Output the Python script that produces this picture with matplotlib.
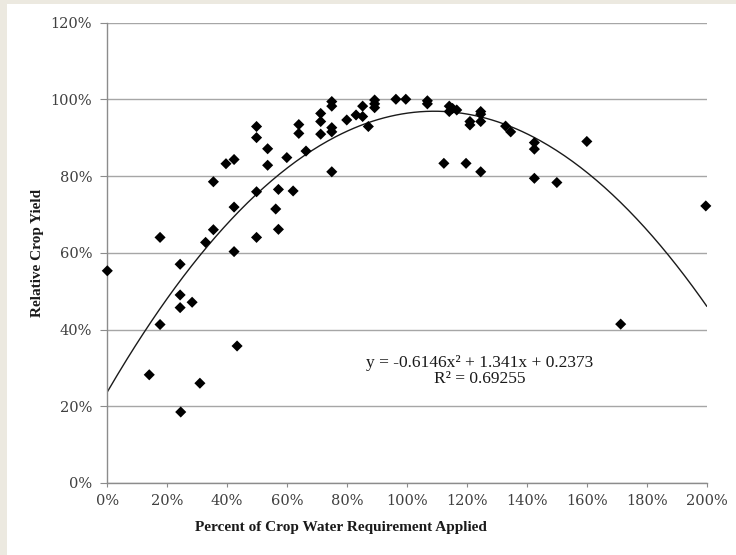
import numpy as np
import matplotlib
matplotlib.use("Agg")
import matplotlib.pyplot as plt
from matplotlib.ticker import PercentFormatter, MultipleLocator
from matplotlib.patches import Rectangle

# percent of crop water requirement applied / relative crop yield (both in %)
water_pct = [0, 14.0, 17.6, 17.6, 24.3, 24.3, 24.3, 24.5, 28.3, 30.9,
             32.8, 35.4, 35.4, 39.6, 42.3, 42.3, 42.3, 43.3, 49.8, 49.8,
             49.8, 49.8, 53.5, 53.5, 57.1, 56.2, 57.1, 59.9, 62.0, 63.9,
             63.9, 66.3, 71.2, 71.2, 71.2, 74.9, 74.9, 74.9, 74.9, 74.9,
             79.9, 83.0, 85.2, 85.2, 87.1, 89.2, 89.2, 89.2, 96.3, 99.6,
             106.8, 106.8, 112.3, 114.1, 114.1, 115.2, 116.6, 119.7, 121.0, 121.0,
             124.6, 124.6, 124.6, 124.6, 132.9, 134.6, 142.5, 142.5, 142.5, 150.0,
             160.0, 171.3, 199.7]
yield_pct = [55.3, 28.2, 41.3, 64.0, 57.0, 49.0, 45.7, 18.5, 47.1, 26.0,
             62.7, 78.5, 66.0, 83.2, 84.3, 71.9, 60.3, 35.7, 92.9, 90.0,
             75.9, 64.0, 87.1, 82.8, 76.5, 71.4, 66.1, 84.8, 76.1, 93.4,
             91.1, 86.5, 96.3, 94.2, 90.9, 99.4, 98.2, 92.6, 91.5, 81.1,
             94.6, 95.9, 98.2, 95.5, 92.9, 99.8, 98.8, 97.8, 100.0, 100.0,
             99.6, 98.8, 83.3, 98.2, 96.8, 97.6, 97.2, 83.3, 94.2, 93.3,
             96.8, 96.1, 94.2, 81.1, 93.0, 91.5, 88.7, 87.0, 79.4, 78.3,
             89.0, 41.4, 72.2]

# trendline coefficients as shown on the chart
trend_coef = [-0.6146, 1.341, 0.2373]
eq_text = "y = -0.6146x\u00b2 + 1.341x + 0.2373\nR\u00b2 = 0.69255"

fig = plt.figure(figsize=(7.36, 5.55), dpi=100)
fig.patch.set_facecolor("white")
# beige frame strip on left and top
fig.patches.append(Rectangle((0, 0), 7/736, 1, transform=fig.transFigure,
                             facecolor="#ECE9E0", edgecolor="none"))
fig.patches.append(Rectangle((0, 1-4/555), 1, 4/555, transform=fig.transFigure,
                             facecolor="#ECE9E0", edgecolor="none"))

ax = fig.add_axes([107.3/736, 1-483/555, (706.7-107.3)/736, (483-22.5)/555])
ax.set_xlim(0, 200)
ax.set_ylim(0, 120)

grid_c = "#A6A6A6"
ax.yaxis.set_major_locator(MultipleLocator(20))
ax.xaxis.set_major_locator(MultipleLocator(20))
ax.yaxis.grid(True, color=grid_c, lw=1.0)
ax.set_axisbelow(True)
for s in ["top", "right"]:
    ax.spines[s].set_visible(False)
for s in ["left", "bottom"]:
    ax.spines[s].set_color("#8C8C8C")
    ax.spines[s].set_linewidth(1.0)

ax.xaxis.set_major_formatter(PercentFormatter(decimals=0))
ax.yaxis.set_major_formatter(PercentFormatter(decimals=0))
ax.tick_params(axis="both", colors="#8C8C8C", labelcolor="#404040",
               labelsize=10.5, direction="out")
ax.tick_params(axis="y", length=5, pad=6)
ax.tick_params(axis="x", length=3, pad=5)
for lab in ax.get_xticklabels() + ax.get_yticklabels():
    lab.set_family("DejaVu Serif")

# trendline
xs = np.linspace(0, 200, 300)
ys = np.polyval(trend_coef, xs / 100) * 100
ax.plot(xs, ys, color="#1a1a1a", lw=1.0, zorder=2)

ax.scatter(water_pct, yield_pct, marker="D", s=32, color="black",
           edgecolors="none", zorder=3, clip_on=False)

fig.text(480/736, 1-371/555, eq_text, ha="center", va="center",
         fontsize=12.5, family="Liberation Serif", linespacing=1.05,
         color="#1a1a1a")

fig.text(341/736, 1-528/555, "Percent of Crop Water Requirement Applied",
         ha="center", va="center", fontsize=11, fontweight="bold",
         family="Liberation Serif", color="#1a1a1a")
fig.text(37/736, 1-253/555, "Relative Crop Yield", rotation=90,
         ha="center", va="center", fontsize=11, fontweight="bold",
         family="Liberation Serif", color="#1a1a1a")

fig.savefig("out.png", dpi=100)
